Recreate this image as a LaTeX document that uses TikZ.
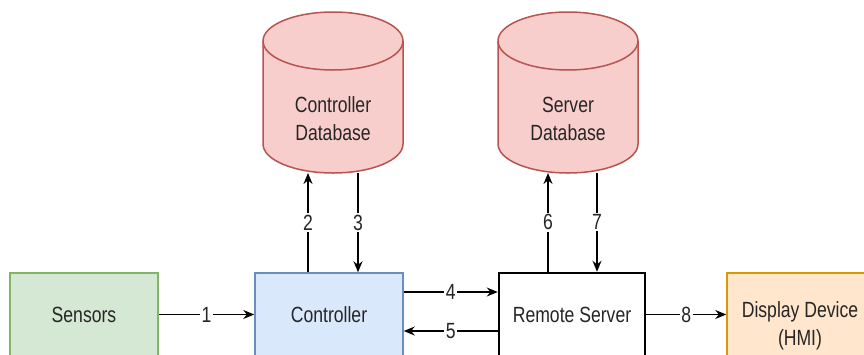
\documentclass[tikz,border=0pt]{standalone}
\usepackage{fontspec}
\newfontfamily\diafont[FakeStretch=0.8]{Liberation Sans}
\usetikzlibrary{arrows.meta}
\definecolor{sensfill}{HTML}{D5E8D4}
\definecolor{sensline}{HTML}{82B366}
\definecolor{ctrlfill}{HTML}{DAE8FC}
\definecolor{ctrlline}{HTML}{6C8EBF}
\definecolor{hmifill}{HTML}{FFE6CC}
\definecolor{hmiline}{HTML}{D79B00}
\definecolor{dbfill}{HTML}{F8CECC}
\definecolor{dbline}{HTML}{B85450}
\begin{document}
\begin{tikzpicture}[x=1pt,y=-1pt,
    every node/.style={font=\diafont\fontsize{22}{28}\selectfont,text=black!85},
    box/.style={draw,rectangle,line width=1.5pt,minimum width=148pt,minimum height=83pt,align=center},
    dbbox/.style={rectangle,minimum width=140pt,minimum height=161pt,inner sep=0pt,outer sep=0pt},
    dbshape/.style={draw=dbline,fill=dbfill,line width=1.5pt},
    flow/.style={-{Stealth[length=11pt,width=9pt]},line width=1.3pt},
    num/.style={fill=white,inner sep=1.5pt}]
    \useasboundingbox (0,0) rectangle (864,354);
    \clip (0,0) rectangle (864,354);
    % blocks
    \node[box,draw=sensline,fill=sensfill] (sensors) at (84,314.5) {Sensors};
    \node[box,draw=ctrlline,fill=ctrlfill] (ctrl) at (329,314.5) {Controller};
    \node[box,draw=black,fill=white,line width=2.5pt,minimum width=146pt] (server) at (572,314.5) {Remote Server};
    \node[box,draw=hmiline,fill=hmifill,minimum width=146pt,minimum height=106pt] (hmi) at (800,326) {Display Device\\(HMI)};
    % databases
    \foreach \db/\cx/\txt in {cdb/333/Controller, sdb/568/Server}{
        \node[dbbox] (\db) at (\cx,92.5) {};
        \path[dbshape] ([yshift=-29pt]\db.north west) -- ([yshift=29pt]\db.south west)
            arc[start angle=180,end angle=360,x radius=70pt,y radius=29pt]
            -- ([yshift=-29pt]\db.north east)
            arc[start angle=0,end angle=180,x radius=70pt,y radius=29pt] -- cycle;
        \draw[dbshape,fill=none] ([yshift=-29pt]\db.north west)
            arc[start angle=180,end angle=360,x radius=70pt,y radius=29pt];
        \node[align=center] (\db text) at ([yshift=-26.5pt]\db.center) {\txt\\Database};
    }
    % flows
    \draw[flow] (sensors) -- (ctrl) node[num,midway]{1};
    \draw[flow] ([xshift=-21pt]ctrl.north) -- ([xshift=-21pt]ctrl.north |- cdb.south) node[num,midway]{2};
    \draw[flow] ([xshift=29pt]ctrl.north |- cdb.south) -- ([xshift=29pt]ctrl.north) node[num,midway]{3};
    \draw[flow] ([yshift=22.5pt]ctrl.east) -- ([yshift=22.5pt]ctrl.east -| server.west) node[num,midway]{4};
    \draw[flow] ([yshift=-16.5pt]server.west) -- ([yshift=-16.5pt]server.west -| ctrl.east) node[num,midway]{5};
    \draw[flow] ([xshift=-24pt]server.north) -- ([xshift=-24pt]server.north |- sdb.south) node[num,midway]{6};
    \draw[flow] ([xshift=25pt]server.north |- sdb.south) -- ([xshift=25pt]server.north) node[num,midway]{7};
    \draw[flow] (server.east) -- (server.east -| hmi.west) node[num,midway]{8};
\end{tikzpicture}
\end{document}
